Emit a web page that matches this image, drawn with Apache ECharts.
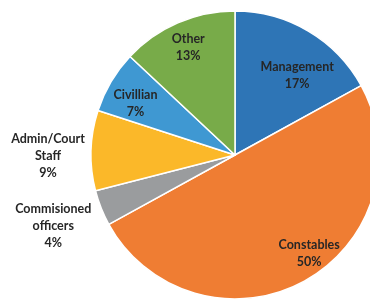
<!DOCTYPE html>
<html>
<head>
<meta charset="utf-8">
<script src="https://cdn.jsdelivr.net/npm/echarts@6/dist/echarts.min.js"></script>
<style>
  html, body { margin: 0; padding: 0; background: #fff; }
  #chart { width: 370px; height: 301px; }
</style>
</head>
<body>
<div id="chart"></div>
<script>
  // staff categories, clockwise from 12 o'clock
  var categories = ['Management', 'Constables', 'Commisioned\nofficers', 'Admin/Court\nStaff', 'Civillian', 'Other']
  var shares = [17, 50, 4, 9, 7, 13]
  var colors = ['#2e75b6', '#ef7d33', '#9a9c9e', '#fbb829', '#3f98d2', '#78ab49']
  // nudges from the default inside spot of each label
  var labelShift = [[24, -15], [38, 33], [-112, 43], [-112, 3], [-35, -13], [-17, -39]]

  var chart = echarts.init(document.getElementById('chart'))
  chart.setOption({
    animation: false,
    backgroundColor: '#fff',
    series: [{
      type: 'pie',
      center: [235, 155],
      radius: 144,
      startAngle: 90,
      clockwise: true,
      itemStyle: { borderColor: '#fff', borderWidth: 1.5 },
      label: {
        position: 'inside',
        formatter: '{b}\n{c}%',
        color: '#262626',
        fontFamily: 'Lato',
        fontWeight: 'bold',
        fontSize: 12.5,
        lineHeight: 17,
        align: 'center'
      },
      labelLayout: function (params) {
        var s = labelShift[params.dataIndex]
        return { dx: s[0], dy: s[1] }
      },
      emphasis: { disabled: true },
      data: categories.map(function (name, i) {
        return { name: name, value: shares[i], itemStyle: { color: colors[i] } }
      })
    }]
  })
</script>
</body>
</html>
